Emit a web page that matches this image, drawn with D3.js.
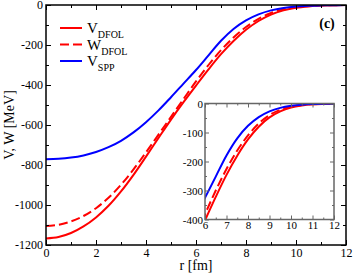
<!DOCTYPE html>
<html>
<head>
<meta charset="utf-8">
<script src="https://cdn.jsdelivr.net/npm/d3@7"></script>
<style>
  body { margin: 0; background: #fff; }
  text { font-family: "Liberation Serif", "DejaVu Serif", serif; fill: #000; }
</style>
</head>
<body>
<div id="chart"></div>
<script>
// radius grid (fm) and the three potentials (MeV)
var rValues = [0, 0.5, 1, 1.5, 2, 2.5, 3, 3.5, 4, 4.5, 5, 5.5, 6, 6.5, 7, 7.5, 8, 8.5, 9, 9.5, 10, 10.5, 11, 11.5, 12];
var vDFOL = [-1167, -1160, -1140, -1107, -1062, -1004, -932, -849, -758, -665, -573, -486, -403, -322, -246, -180, -124, -80, -48, -27, -14, -7, -3, -1.3, -0.6];
var wDFOL = [-1105, -1099, -1082, -1055, -1016, -964, -899, -822, -737, -648, -559, -470, -382, -300, -226, -162, -110, -69, -40, -22, -11, -5, -2.3, -1, -0.4];
var vSPP = [-771, -769, -763, -752, -735, -711, -679, -637, -586, -527, -461, -393, -325, -252, -179, -120, -77, -47, -27, -15, -8, -4, -2, -1, -0.5];

var seriesList = [
    { name: "V", sub: "DFOL", values: vDFOL, color: "#ff0000", dash: null },
    { name: "W", sub: "DFOL", values: wDFOL, color: "#ff0000", dash: "9,4" },
    { name: "V", sub: "SPP", values: vSPP, color: "#0000ff", dash: null }
];

var xMainTicks = [0, 2, 4, 6, 8, 10, 12];
var yMainTicks = [-1200, -1000, -800, -600, -400, -200, 0];
var xInsetTicks = [6, 7, 8, 9, 10, 11, 12];
var yInsetTicks = [-400, -300, -200, -100, 0];

var svgWidth = 353;
var svgHeight = 273;

var margin = { top: 5, right: 7, bottom: 28, left: 46 };
var width = svgWidth - margin.left - margin.right;
var height = svgHeight - margin.top - margin.bottom;

var svg = d3.select("#chart")
    .append("svg")
    .attr("width", svgWidth)
    .attr("height", svgHeight);

svg.append("rect").attr("width", svgWidth).attr("height", svgHeight).attr("fill", "white");

var chartGroup = svg.append("g")
    .attr("transform", `translate(${margin.left}, ${margin.top})`);

// draws a framed panel with inward ticks on all four sides
function drawFrame(g, xScale, yScale, xTicks, yTicks, xMinor, yMinor, opts) {
    var w = xScale.range()[1], h = yScale.range()[0];
    var fmt = d => String(d);

    g.append("g").attr("transform", `translate(0, ${h})`)
        .call(d3.axisBottom(xScale).tickValues(xTicks).tickSize(-opts.major).tickPadding(opts.pad).tickFormat(fmt));
    g.append("g")
        .call(d3.axisLeft(yScale).tickValues(yTicks).tickSize(-opts.major).tickPadding(opts.pad).tickFormat(fmt));
    g.append("g")
        .call(d3.axisTop(xScale).tickValues(xTicks).tickSize(-opts.major).tickFormat(""));
    g.append("g").attr("transform", `translate(${w}, 0)`)
        .call(d3.axisRight(yScale).tickValues(yTicks).tickSize(-opts.major).tickFormat(""));

    // minor ticks
    g.append("g").attr("transform", `translate(0, ${h})`)
        .call(d3.axisBottom(xScale).tickValues(xMinor).tickSize(-opts.minor).tickFormat(""));
    g.append("g")
        .call(d3.axisTop(xScale).tickValues(xMinor).tickSize(-opts.minor).tickFormat(""));
    g.append("g")
        .call(d3.axisLeft(yScale).tickValues(yMinor).tickSize(-opts.minor).tickFormat(""));
    g.append("g").attr("transform", `translate(${w}, 0)`)
        .call(d3.axisRight(yScale).tickValues(yMinor).tickSize(-opts.minor).tickFormat(""));

    g.selectAll(".domain").remove();
    g.selectAll(".tick line").attr("stroke", opts.color).attr("stroke-width", 1);
    g.selectAll(".tick text")
        .style("font-family", "Liberation Serif")
        .style("font-size", opts.font + "px")
        .attr("fill", "#000");

    g.append("rect")
        .attr("width", w).attr("height", h)
        .attr("fill", "none")
        .attr("stroke", opts.color)
        .attr("stroke-width", opts.frameWidth);
}

function drawCurves(g, xScale, yScale, clipId, lineWidth) {
    var w = xScale.range()[1], h = yScale.range()[0];
    g.append("clipPath").attr("id", clipId)
        .append("rect").attr("width", w).attr("height", h);

    var curves = g.append("g").attr("clip-path", `url(#${clipId})`);
    seriesList.forEach(s => {
        var pts = rValues.map((r, i) => [r, s.values[i]]);
        var line = d3.line()
            .x(d => xScale(d[0]))
            .y(d => yScale(d[1]))
            .curve(d3.curveCatmullRom.alpha(0.5));
        curves.append("path")
            .attr("d", line(pts))
            .attr("fill", "none")
            .attr("stroke", s.color)
            .attr("stroke-width", lineWidth)
            .attr("stroke-dasharray", s.dash);
    });
}

// Main panel
var xScale = d3.scaleLinear().domain([0, 12]).range([0, width]);
var yScale = d3.scaleLinear().domain([-1200, 0]).range([height, 0]);

drawCurves(chartGroup, xScale, yScale, "clipMain", 2);
drawFrame(chartGroup, xScale, yScale, xMainTicks, yMainTicks,
    d3.range(1, 12, 2), d3.range(-1100, 0, 200),
    { major: 5, minor: 3, pad: 3, font: 12, color: "#000", frameWidth: 1.5 });

// Axis titles
svg.append("text")
    .attr("x", margin.left + width / 2)
    .attr("y", 270)
    .attr("text-anchor", "middle")
    .style("font-size", "14px")
    .text("r [fm]");

svg.append("text")
    .attr("transform", `translate(14, ${margin.top + height / 2}) rotate(-90)`)
    .attr("text-anchor", "middle")
    .style("font-size", "14px")
    .text("V, W [MeV]");

// panel label
svg.append("text")
    .attr("x", 327)
    .attr("y", 28)
    .attr("text-anchor", "middle")
    .style("font-size", "14px")
    .style("font-weight", "bold")
    .text("(c)");

// Legend
var legend = svg.append("g");
seriesList.forEach((s, i) => {
    var y = 28 + i * 16.5;
    legend.append("line")
        .attr("x1", 60).attr("x2", 82)
        .attr("y1", y).attr("y2", y)
        .attr("stroke", s.color)
        .attr("stroke-width", 2)
        .attr("stroke-dasharray", s.dash);
    var t = legend.append("text")
        .attr("x", 87)
        .attr("y", y + 5)
        .style("font-size", "15px");
    t.append("tspan").text(s.name);
    t.append("tspan")
        .attr("dy", 5)
        .style("font-size", "10px")
        .text(s.sub);
});

// Inset panel
var inset = svg.append("g").attr("transform", "translate(205, 103.5)");
inset.append("rect").attr("width", 129).attr("height", 116).attr("fill", "white");
var xInset = d3.scaleLinear().domain([6, 12]).range([0, 129]);
var yInset = d3.scaleLinear().domain([-400, 0]).range([116, 0]);

drawCurves(inset, xInset, yInset, "clipInset", 2);
drawFrame(inset, xInset, yInset, xInsetTicks, yInsetTicks,
    d3.range(6.5, 12, 1), d3.range(-350, 0, 100),
    { major: 4, minor: 2, pad: 2, font: 11, color: "#666", frameWidth: 1.5 });
</script>
</body>
</html>
